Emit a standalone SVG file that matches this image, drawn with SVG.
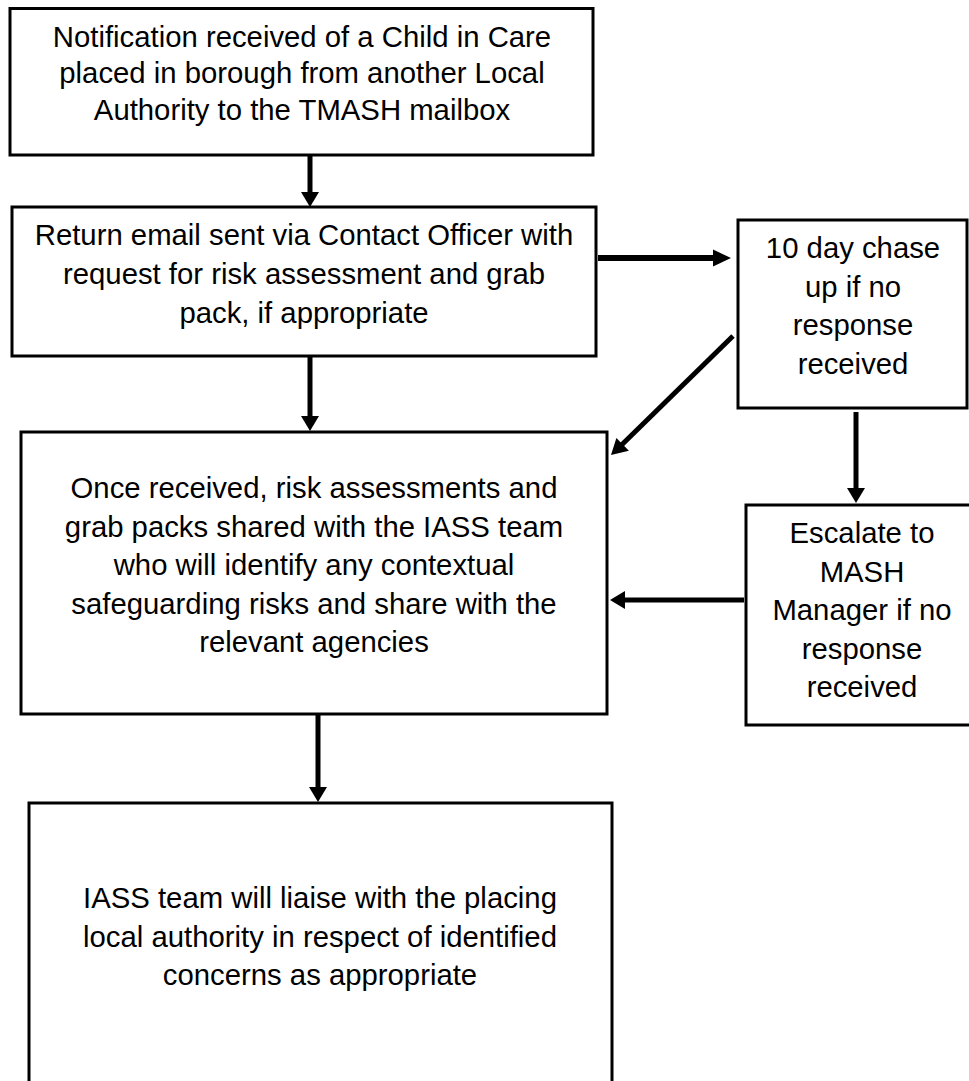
<svg xmlns="http://www.w3.org/2000/svg" width="969" height="1081" viewBox="0 0 969 1081">
  <style>
    .box { fill: #ffffff; stroke: #000000; stroke-width: 3; }
    .lbl { font-family: "Liberation Sans", Arial, sans-serif; font-size: 29.3px; fill: #000000; text-anchor: middle; }
    .shaft { stroke: #000000; stroke-width: 5; fill: none; }
    .head { fill: #000000; }
  </style>
  <rect width="969" height="1081" fill="#ffffff"/>

  <!-- connectors -->
  <g id="connectors">
    <!-- notification -> return email -->
    <line class="shaft" x1="310" y1="155" x2="310" y2="193"/>
    <polygon class="head" points="301,192 319,192 310,207"/>
    <!-- return email -> 10 day chase -->
    <line class="shaft" x1="598" y1="258" x2="715" y2="258" style="stroke-width:6"/>
    <polygon class="head" points="713,249.5 713,266.5 731,258"/>
    <!-- return email -> once received -->
    <line class="shaft" x1="310" y1="356" x2="310" y2="417"/>
    <polygon class="head" points="301,416 319,416 310,431"/>
    <!-- 10 day chase -> once received (diagonal) -->
    <line class="shaft" x1="733" y1="336" x2="620" y2="446.5"/>
    <polygon class="head" points="611,455 616.4,437.9 628.9,450.7"/>
    <!-- 10 day chase -> escalate -->
    <line class="shaft" x1="856" y1="412" x2="856" y2="489"/>
    <polygon class="head" points="847,488 865,488 856,503"/>
    <!-- escalate -> once received -->
    <line class="shaft" x1="744" y1="600" x2="624" y2="600"/>
    <polygon class="head" points="625,591 625,609 610,600"/>
    <!-- once received -> IASS liaise -->
    <line class="shaft" x1="318" y1="714" x2="318" y2="788"/>
    <polygon class="head" points="309,787 327,787 318,802"/>
  </g>

  <g id="node-notification">
    <rect class="box" x="10" y="8.5" width="583" height="146.5"/>
    <text class="lbl" x="302" y="47">Notification received of a Child in Care</text>
    <text class="lbl" x="302" y="83.3">placed in borough from another Local</text>
    <text class="lbl" x="302" y="119.6">Authority to the TMASH mailbox</text>
  </g>

  <g id="node-return-email">
    <rect class="box" x="12" y="207" width="584" height="149"/>
    <text class="lbl" x="304" y="245">Return email sent via Contact Officer with</text>
    <text class="lbl" x="304" y="283.8">request for risk assessment and grab</text>
    <text class="lbl" x="304" y="322.6">pack, if appropriate</text>
  </g>

  <g id="node-chase">
    <rect class="box" x="738" y="220" width="229" height="188"/>
    <text class="lbl" x="853" y="258">10 day chase</text>
    <text class="lbl" x="853" y="296.7">up if no</text>
    <text class="lbl" x="853" y="335">response</text>
    <text class="lbl" x="853" y="373.5">received</text>
  </g>

  <g id="node-once-received">
    <rect class="box" x="21" y="432" width="586" height="282"/>
    <text class="lbl" x="314" y="498">Once received, risk assessments and</text>
    <text class="lbl" x="314" y="536.5">grab packs shared with the IASS team</text>
    <text class="lbl" x="314" y="575">who will identify any contextual</text>
    <text class="lbl" x="314" y="613.5">safeguarding risks and share with the</text>
    <text class="lbl" x="314" y="652">relevant agencies</text>
  </g>

  <g id="node-escalate">
    <rect class="box" x="746" y="505" width="260" height="220"/>
    <text class="lbl" x="862" y="543">Escalate to</text>
    <text class="lbl" x="862" y="581.5">MASH</text>
    <text class="lbl" x="862" y="620">Manager if no</text>
    <text class="lbl" x="862" y="658.5">response</text>
    <text class="lbl" x="862" y="697">received</text>
  </g>

  <g id="node-liaise">
    <rect class="box" x="29" y="803" width="583" height="300"/>
    <text class="lbl" x="320" y="908">IASS team will liaise with the placing</text>
    <text class="lbl" x="320" y="946.5">local authority in respect of identified</text>
    <text class="lbl" x="320" y="985">concerns as appropriate</text>
  </g>
</svg>
